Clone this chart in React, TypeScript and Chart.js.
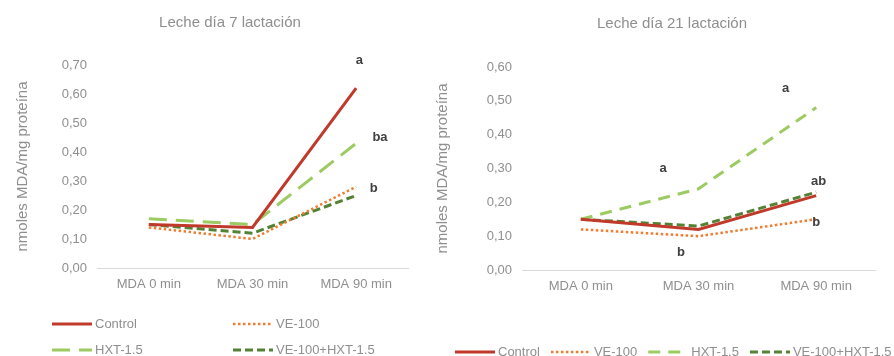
import React, { useEffect, useRef } from 'react';
import { Chart, registerables } from 'chart.js';

Chart.register(...registerables);

// ---------- data ----------
const categories = ['MDA 0 min', 'MDA 30 min', 'MDA 90 min'];
const seriesNames = ['Control', 'VE-100', 'HXT-1.5', 'VE-100+HXT-1.5'];

const day7Control = [0.15, 0.14, 0.62];
const day7VE100 = [0.14, 0.10, 0.28];
const day7HXT = [0.17, 0.15, 0.43];
const day7VEHXT = [0.15, 0.12, 0.25];

const day21Control = [0.15, 0.12, 0.22];
const day21VE100 = [0.12, 0.10, 0.15];
const day21HXT = [0.15, 0.24, 0.48];
const day21VEHXT = [0.15, 0.13, 0.23];

// significance letters: text, category position, value position
const day7Letters = ['a', 'ba', 'b'];
const day7LetterCat = [2.03, 2.23, 2.17];
const day7LetterVal = [0.717, 0.45, 0.276];

const day21Letters = ['a', 'a', 'ab', 'b', 'b'];
const day21LetterCat = [1.74, 0.7, 2.02, 2.0, 0.85];
const day21LetterVal = [0.538, 0.3, 0.263, 0.142, 0.053];

const day7Max = 0.7;
const day21Max = 0.6;

// ---------- styles ----------
const FONT = '"Liberation Sans", Arial, sans-serif';
const TEXT = '#8f8f8f';
const RED = '#C0392B';
const ORANGE = '#ED7D31';
const LIGHTGREEN = '#9CCB62';
const DARKGREEN = '#548235';

type ChartCfg = {
  title: string;
  titleX: number;
  titleY: number;
  values: number[][];
  hxtDash: number[];
  yMax: number;
  letters: string[];
  letterCat: number[];
  letterVal: number[];
  padding: { left: number; right: number; top: number; bottom: number };
  yWidth: number;
  yTitlePad: number;
  legendMode: 'grid' | 'row';
  legendGrid?: number[][];
  legendRowX?: number;
  legendRowY?: number;
};

function makeDecor(cfg: ChartCfg) {
  return {
    id: 'decor',
    afterDraw(chart: any) {
      const ctx: CanvasRenderingContext2D = chart.ctx;
      ctx.save();
      // title
      ctx.font = `15px ${FONT}`;
      ctx.fillStyle = TEXT;
      ctx.textAlign = 'center';
      ctx.textBaseline = 'middle';
      ctx.fillText(cfg.title, cfg.titleX, cfg.titleY);

      // letters
      const xs = chart.scales.x;
      const ys = chart.scales.y;
      ctx.font = `bold 13px ${FONT}`;
      ctx.fillStyle = '#404040';
      cfg.letters.forEach((t, i) => {
        ctx.fillText(t, xs.getPixelForValue(cfg.letterCat[i]), ys.getPixelForValue(cfg.letterVal[i]));
      });

      // legend
      ctx.font = `13px ${FONT}`;
      ctx.textAlign = 'left';
      const lineLen = 40;
      let cursor = cfg.legendRowX || 0;
      chart.data.datasets.forEach((ds: any, i: number) => {
        let x: number, y: number;
        if (cfg.legendMode === 'grid' && cfg.legendGrid) {
          x = cfg.legendGrid[i][0];
          y = cfg.legendGrid[i][1];
        } else {
          x = cursor;
          y = cfg.legendRowY || 0;
        }
        ctx.strokeStyle = ds.borderColor;
        ctx.lineWidth = ds.borderWidth;
        ctx.setLineDash(ds.borderDash || []);
        ctx.lineCap = 'butt';
        ctx.beginPath();
        ctx.moveTo(x, y);
        ctx.lineTo(x + lineLen, y);
        ctx.stroke();
        ctx.setLineDash([]);
        ctx.fillStyle = TEXT;
        ctx.fillText(ds.label, x + lineLen + 3, y);
        const w = ctx.measureText(ds.label).width;
        cursor = x + lineLen + 3 + w + 11;
      });
      ctx.restore();
    },
  };
}

function buildChart(canvas: HTMLCanvasElement, cfg: ChartCfg) {
  const styles = [
    { color: RED, width: 3, dash: [] as number[] },
    { color: ORANGE, width: 2.5, dash: [2.5, 2.5] },
    { color: LIGHTGREEN, width: 3, dash: cfg.hxtDash },
    { color: DARKGREEN, width: 3, dash: [8, 4] },
  ];
  return new Chart(canvas, {
    type: 'line',
    data: {
      labels: categories,
      datasets: seriesNames.map((name, i) => ({
        label: name,
        data: cfg.values[i],
        borderColor: styles[i].color,
        backgroundColor: styles[i].color,
        borderWidth: styles[i].width,
        borderDash: styles[i].dash,
        pointRadius: 0,
        fill: false,
        tension: 0,
      })),
    },
    options: {
      responsive: false,
      animation: false,
      devicePixelRatio: 1,
      layout: { padding: cfg.padding },
      plugins: {
        legend: { display: false },
        title: { display: false },
        tooltip: { enabled: false },
      },
      scales: {
        x: {
          type: 'category',
          offset: true,
          grid: { display: false, drawTicks: false },
          border: { display: true, color: '#d9d9d9', width: 1 },
          ticks: {
            color: TEXT,
            font: { size: 13, family: FONT },
            padding: 9,
            maxRotation: 0,
            autoSkip: false,
          },
          afterFit: (s: any) => {
            s.height = 30;
          },
        },
        y: {
          min: 0,
          max: cfg.yMax,
          grid: { display: false, drawTicks: false },
          border: { display: false },
          ticks: {
            stepSize: 0.1,
            color: TEXT,
            font: { size: 13, family: FONT },
            padding: 10,
            callback: (v: any) => Number(v).toFixed(2).replace('.', ','),
          },
          title: {
            display: true,
            text: 'nmoles MDA/mg proteína',
            color: TEXT,
            font: { size: 15, family: FONT },
            padding: { top: cfg.yTitlePad, bottom: 0 },
          },
          afterFit: (s: any) => {
            s.width = cfg.yWidth;
          },
        },
      },
    },
    plugins: [makeDecor(cfg)],
  } as any);
}

const leftCfg: ChartCfg = {
  title: 'Leche día 7 lactación',
  titleX: 230,
  titleY: 23,
  values: [day7Control, day7VE100, day7HXT, day7VEHXT],
  hxtDash: [18, 9],
  yMax: day7Max,
  letters: day7Letters,
  letterCat: day7LetterCat,
  letterVal: day7LetterVal,
  padding: { left: 13, right: 26, top: 65, bottom: 58 },
  yWidth: 84,
  yTitlePad: 1,
  legendMode: 'grid',
  legendGrid: [
    [52, 324],
    [233, 324],
    [52, 350],
    [233, 350],
  ],
};

const rightCfg: ChartCfg = {
  title: 'Leche día 21 lactación',
  titleX: 238,
  titleY: 24,
  values: [day21Control, day21VE100, day21HXT, day21VEHXT],
  hxtDash: [12, 8],
  yMax: day21Max,
  letters: day21Letters,
  letterCat: day21LetterCat,
  letterVal: day21LetterVal,
  padding: { left: 0, right: 19, top: 67, bottom: 56 },
  yWidth: 88,
  yTitlePad: 0,
  legendMode: 'row',
  legendRowX: 21,
  legendRowY: 352,
};

export default function App() {
  const leftRef = useRef<HTMLCanvasElement | null>(null);
  const rightRef = useRef<HTMLCanvasElement | null>(null);

  useEffect(() => {
    document.body.style.margin = '0';
    const charts: Chart[] = [];
    if (leftRef.current) charts.push(buildChart(leftRef.current, leftCfg));
    if (rightRef.current) charts.push(buildChart(rightRef.current, rightCfg));
    return () => {
      charts.forEach((c) => c.destroy());
    };
  }, []);

  return (
    <div style={{ display: 'flex', width: 894, height: 356, background: '#fff', overflow: 'hidden' }}>
      <canvas ref={leftRef} width={434} height={356} style={{ width: 434, height: 356, display: 'block' }} />
      <canvas ref={rightRef} width={460} height={356} style={{ width: 460, height: 356, display: 'block' }} />
    </div>
  );
}
